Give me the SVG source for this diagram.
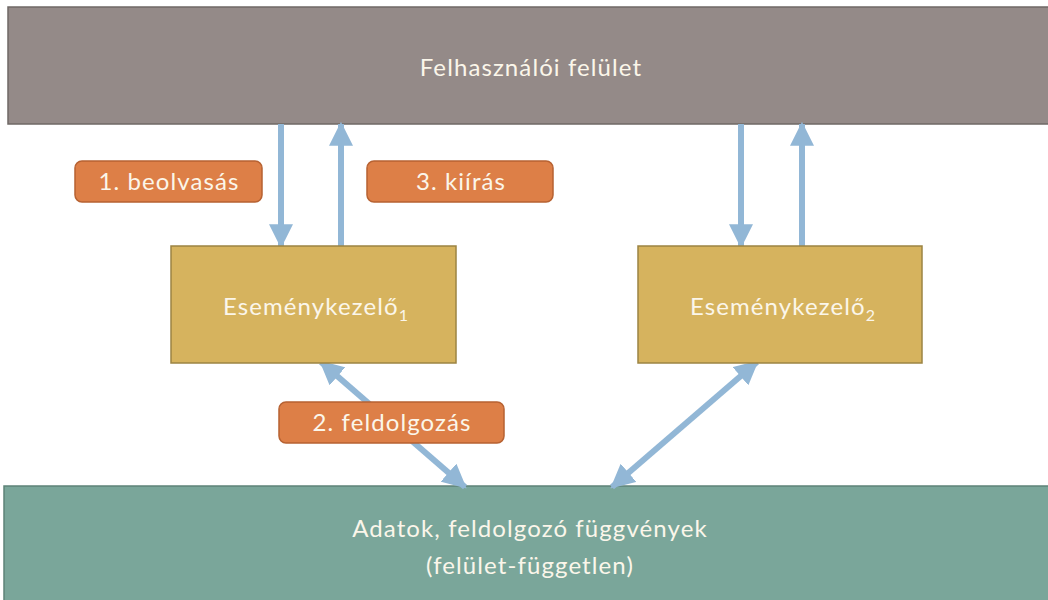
<svg xmlns="http://www.w3.org/2000/svg" width="1048" height="600" viewBox="0 0 1048 600">
<style>
.t{font-family:"Lato","Liberation Sans",sans-serif;fill:#fbf6ea;font-size:24px;letter-spacing:1.1px;text-anchor:middle}
.ev{fill:#d6b35e;stroke:#9c8443;stroke-width:1.5}
.lb{fill:#dd7f47;stroke:#b76232;stroke-width:1.5}
.ar{stroke:#92b7d6;stroke-width:6;fill:none}
</style>
<defs>
<marker id="h" markerUnits="userSpaceOnUse" markerWidth="24" markerHeight="24" viewBox="0 0 22 22" refX="20" refY="11" orient="auto-start-reverse">
<path d="M0,0 L22,11 L0,22 Z" fill="#92b7d6"/>
</marker>
</defs>
<rect width="1048" height="600" fill="#ffffff"/>
<g id="ui">
<rect x="8" y="7" width="1045" height="117" fill="#948a88" stroke="#6f6866" stroke-width="1.5"/>
<text class="t" x="531" y="76">Felhasználói felület</text>
</g>
<g id="data">
<rect x="4" y="486" width="1050" height="120" fill="#7aa69a" stroke="#5e8378" stroke-width="1.5"/>
<text class="t" x="530" y="537">Adatok, feldolgozó függvények</text>
<text class="t" x="530" y="574">(felület-független)</text>
</g>
<g id="connectors">
<line class="ar" x1="281" y1="124" x2="281" y2="246" marker-end="url(#h)"/>
<line class="ar" x1="341" y1="246" x2="341" y2="124" marker-end="url(#h)"/>
<line class="ar" x1="741" y1="124" x2="741" y2="246" marker-end="url(#h)"/>
<line class="ar" x1="802" y1="246" x2="802" y2="124" marker-end="url(#h)"/>
<line class="ar" x1="321" y1="362" x2="465" y2="487" marker-start="url(#h)" marker-end="url(#h)"/>
<line class="ar" x1="757" y1="362" x2="612" y2="487" marker-start="url(#h)" marker-end="url(#h)"/>
</g>
<g id="e1">
<rect class="ev" x="171" y="246" width="285" height="117"/>
<text class="t" x="316" y="315">Eseménykezelő<tspan font-size="16" dy="6">1</tspan></text>
</g>
<g id="e2">
<rect class="ev" x="638" y="246" width="284" height="117"/>
<text class="t" x="783" y="315">Eseménykezelő<tspan font-size="16" dy="6">2</tspan></text>
</g>
<g id="l1">
<rect class="lb" x="75" y="161" width="187" height="41" rx="7"/>
<text class="t" x="169" y="190">1. beolvasás</text>
</g>
<g id="l3">
<rect class="lb" x="367" y="161" width="186" height="41" rx="7"/>
<text class="t" x="461" y="190">3. kiírás</text>
</g>
<g id="l2">
<rect class="lb" x="279" y="402" width="225" height="41" rx="7"/>
<text class="t" x="392" y="431">2. feldolgozás</text>
</g>
</svg>
